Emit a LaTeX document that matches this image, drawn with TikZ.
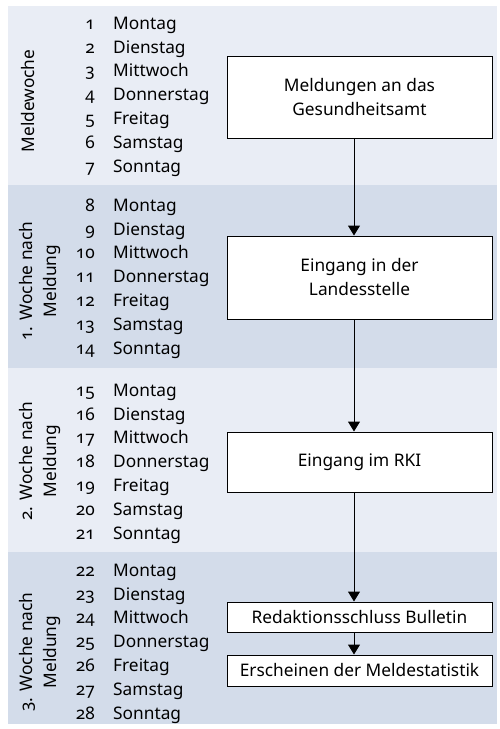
\documentclass[tikz,border=0pt]{standalone}
\usepackage{fontspec}
\setmainfont{Noto Sans}[Numbers=OldStyle]
\usetikzlibrary{arrows.meta,positioning}
\definecolor{bandhell}{RGB}{233,237,245}
\definecolor{banddunkel}{RGB}{211,220,234}
\tikzset{
  schrift/.style={font=\fontsize{17.3}{24}\selectfont},
  nummer/.style={schrift,anchor=base east,inner sep=0pt},
  tagname/.style={schrift,anchor=base west,inner sep=0pt},
  woche/.style={schrift,rotate=90,align=center,inner sep=0pt},
  ereignis/.style={schrift,draw=black,line width=1pt,fill=white,align=center,
    minimum width=265pt,inner sep=2pt},
  pfeil/.style={line width=1pt,-{Triangle[width=12pt,length=10pt]}}
}
\begin{document}
\begin{tikzpicture}[x=1pt,y=-1pt]
\useasboundingbox (0,0) rectangle (499,729);
% bands for the four weeks
\fill[bandhell] (8,6) rectangle (497,185);
\fill[banddunkel] (8,185) rectangle (497,368);
\fill[bandhell] (8,368) rectangle (497,552);
\fill[banddunkel] (8,552) rectangle (497,724);
% edit here for the week labels
\node[woche] (w0) at (28,101) {Meldewoche};
\node[woche] (w1) at (40,281) {1. Woche nach\\Meldung};
\node[woche] (w2) at (40,461) {2. Woche nach\\Meldung};
\node[woche] (w3) at (40,652) {3. Woche nach\\Meldung};
% edit here for the days
\foreach \w/\y in {0/23,1/205,2/390,3/570}
\foreach \t [count=\j] in {Montag,Dienstag,Mittwoch,Donnerstag,Freitag,Samstag,Sonntag}
{
\pgfmathtruncatemacro\n{\w*7+\j}
\node[nummer] (n\n) at (95,{\y+(\j-1)*23.8+6.2}) {\n};
\node[tagname] (t\n) at (113,{\y+(\j-1)*23.8+6.2}) {\t};
}
% edit here for the boxes
\node[ereignis,minimum height=82pt] (meldung) at (359.5,97) {Meldungen an das\\Gesundheitsamt};
\node[ereignis,minimum height=83pt] (land) at (359.5,277.5) {Eingang in der\\Landesstelle};
\node[ereignis,minimum height=60pt] (rki) at (359.5,462) {Eingang im RKI};
\node[ereignis,minimum height=30pt] (redaktion) at (359.5,617) {Redaktionsschluss Bulletin};
\node[ereignis,minimum height=31pt] (erscheinen) at (359.5,670.5) {Erscheinen der Meldestatistik};
% arrows
\draw[pfeil] ([xshift=-5.5pt]meldung.south) -- ([xshift=-5.5pt]land.north);
\draw[pfeil] ([xshift=-5.5pt]land.south) -- ([xshift=-5.5pt]rki.north);
\draw[pfeil] ([xshift=-5.5pt]rki.south) -- ([xshift=-5.5pt]redaktion.north);
\draw[pfeil] ([xshift=-5.5pt]redaktion.south) -- ([xshift=-5.5pt]erscheinen.north);
\end{tikzpicture}
\end{document}
